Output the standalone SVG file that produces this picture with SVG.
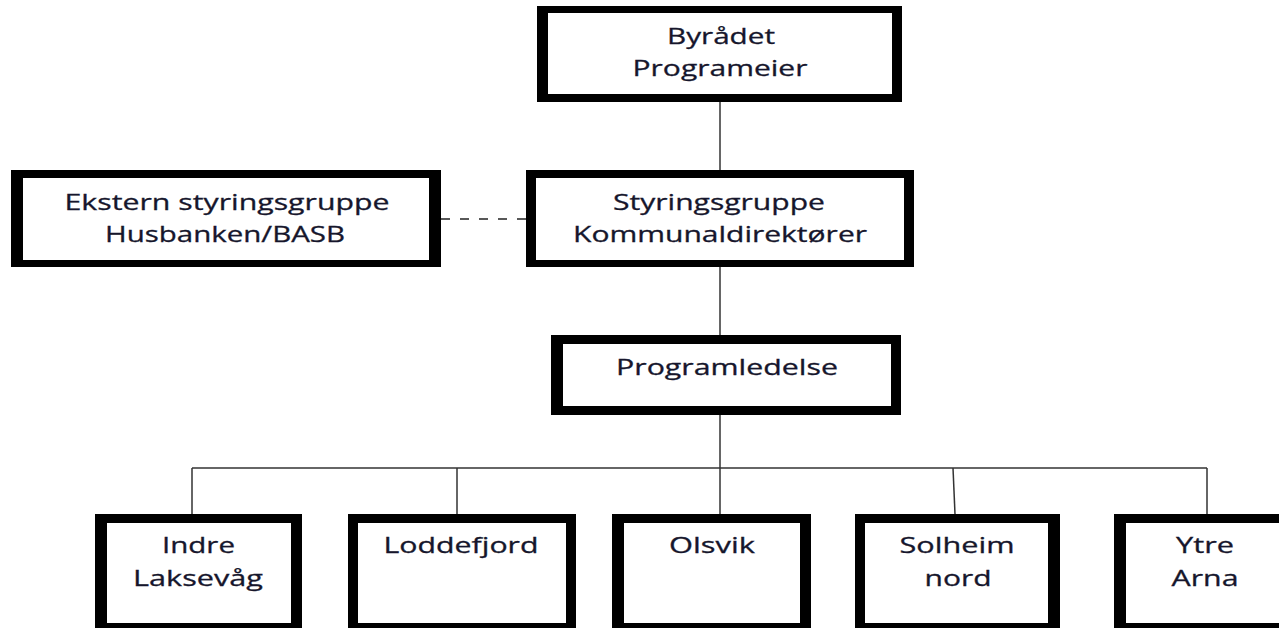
<svg xmlns="http://www.w3.org/2000/svg" width="1279" height="628" viewBox="0 0 1279 628">
<style>
.outer{fill:#000}
.inner{fill:#fff}
.t{font-family:"Open Sans","Liberation Sans",sans-serif;font-size:22px;fill:#16162c;text-anchor:middle;stroke:#16162c;stroke-width:0.3}
.c{stroke:#333;stroke-width:1.5;fill:none}
.d{stroke:#222;stroke-width:1.5;fill:none;stroke-dasharray:9 10}
</style>
<rect width="1279" height="628" fill="#fff"/>
<g id="connectors">
<line class="c" x1="720" y1="102" x2="720" y2="170"/>
<line class="d" x1="441" y1="219" x2="526" y2="219"/>
<line class="c" x1="720" y1="267" x2="720" y2="335"/>
<line class="c" x1="720" y1="415" x2="720" y2="514"/>
<line class="c" x1="192" y1="468" x2="1207" y2="468"/>
<line class="c" x1="192" y1="468" x2="192" y2="514"/>
<line class="c" x1="457" y1="468" x2="457" y2="514"/>
<line class="c" x1="953" y1="468" x2="955" y2="514"/>
<line class="c" x1="1207" y1="468" x2="1207" y2="514"/>
</g>
<g id="byradet">
<rect class="outer" x="537" y="6" width="365" height="96"/>
<rect class="inner" x="548" y="13" width="344" height="81"/>
<text class="t" x="721" y="44" textLength="108" lengthAdjust="spacingAndGlyphs">Byrådet</text>
<text class="t" x="720" y="76" textLength="175" lengthAdjust="spacingAndGlyphs">Programeier</text>
</g>
<g id="ekstern">
<rect class="outer" x="11" y="170" width="430" height="97"/>
<rect class="inner" x="23" y="178" width="406" height="82"/>
<text class="t" x="227" y="210" textLength="325" lengthAdjust="spacingAndGlyphs">Ekstern styringsgruppe</text>
<text class="t" x="225" y="242" textLength="240" lengthAdjust="spacingAndGlyphs">Husbanken/BASB</text>
</g>
<g id="styringsgruppe">
<rect class="outer" x="526" y="170" width="388" height="97"/>
<rect class="inner" x="536" y="178" width="368" height="82"/>
<text class="t" x="719" y="210" textLength="212" lengthAdjust="spacingAndGlyphs">Styringsgruppe</text>
<text class="t" x="720" y="242" textLength="294" lengthAdjust="spacingAndGlyphs">Kommunaldirektører</text>
</g>
<g id="programledelse">
<rect class="outer" x="551" y="335" width="350" height="80"/>
<rect class="inner" x="563" y="344" width="328" height="62"/>
<text class="t" x="727" y="375" textLength="222" lengthAdjust="spacingAndGlyphs">Programledelse</text>
</g>
<g id="indre">
<rect class="outer" x="95" y="514" width="207" height="120"/>
<rect class="inner" x="107" y="523" width="184" height="100"/>
<text class="t" x="198.5" y="553" textLength="73" lengthAdjust="spacingAndGlyphs">Indre</text>
<text class="t" x="198" y="586" textLength="130" lengthAdjust="spacingAndGlyphs">Laksevåg</text>
</g>
<g id="loddefjord">
<rect class="outer" x="348" y="514" width="228" height="120"/>
<rect class="inner" x="358" y="523" width="208" height="100"/>
<text class="t" x="461" y="553" textLength="155" lengthAdjust="spacingAndGlyphs">Loddefjord</text>
</g>
<g id="olsvik">
<rect class="outer" x="612" y="514" width="199" height="120"/>
<rect class="inner" x="624" y="523" width="176" height="100"/>
<text class="t" x="712" y="553" textLength="86" lengthAdjust="spacingAndGlyphs">Olsvik</text>
</g>
<g id="solheim">
<rect class="outer" x="855" y="514" width="205" height="120"/>
<rect class="inner" x="865" y="523" width="183" height="100"/>
<text class="t" x="957" y="553" textLength="115" lengthAdjust="spacingAndGlyphs">Solheim</text>
<text class="t" x="958" y="586" textLength="67" lengthAdjust="spacingAndGlyphs">nord</text>
</g>
<g id="ytre">
<rect class="outer" x="1114" y="514" width="186" height="120"/>
<rect class="inner" x="1126" y="523" width="162" height="100"/>
<text class="t" x="1205" y="553" textLength="58" lengthAdjust="spacingAndGlyphs">Ytre</text>
<text class="t" x="1205" y="586" textLength="67" lengthAdjust="spacingAndGlyphs">Arna</text>
</g>
</svg>
